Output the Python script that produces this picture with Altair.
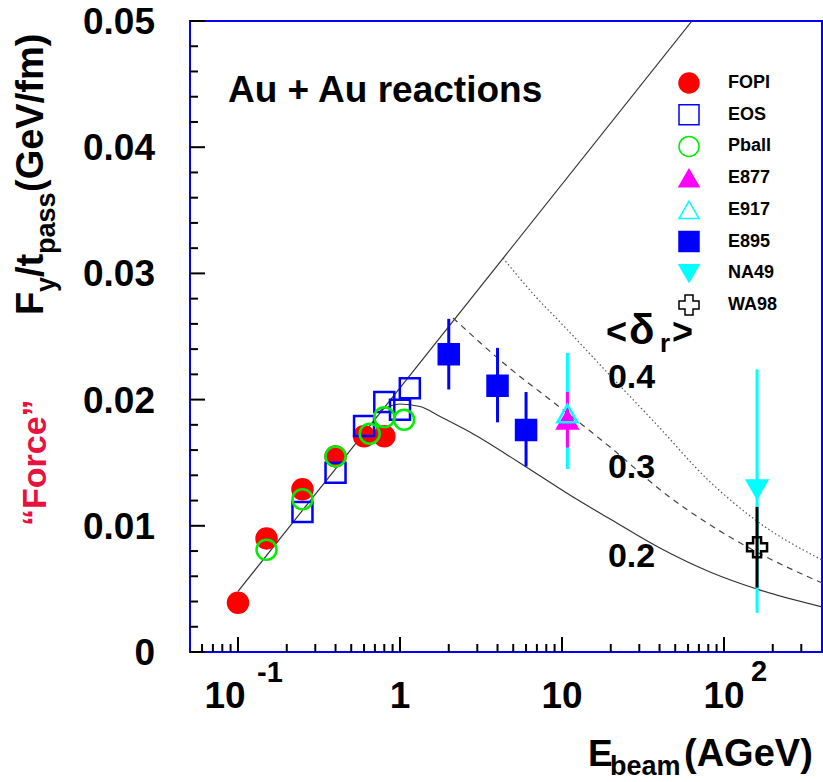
import altair as alt
import pandas as pd

# ---------------- measurements ----------------
fopi_x = [0.1, 0.15, 0.25, 0.4, 0.6, 0.8]
fopi_y = [0.0039, 0.0090, 0.0129, 0.0155, 0.0171, 0.0171]

eos_x = [0.25, 0.4, 0.6, 0.8, 1.0, 1.15]
eos_y = [0.0111, 0.0142, 0.0179, 0.0198, 0.0192, 0.0209]

pball_x = [0.15, 0.25, 0.4, 0.65, 0.8, 1.06]
pball_y = [0.0081, 0.0121, 0.0155, 0.0173, 0.0186, 0.0184]

e895_x = [2.0, 4.0, 6.0]
e895_y = [0.0236, 0.0211, 0.0176]
e895_lo = [0.0208, 0.0182, 0.0147]
e895_hi = [0.0264, 0.0241, 0.0206]

e877_x = [10.8]
e877_y = [0.0184]
e877_lo = [0.0162]
e877_hi = [0.0206]

e917_x = [10.8]
e917_y = [0.0189]
e917_lo = [0.0145]
e917_hi = [0.0237]

na49_x = [160.0]
na49_y = [0.0129]
na49_lo = [0.0031]
na49_hi = [0.0224]

wa98_x = [160.0]
wa98_y = [0.0083]
wa98_lo = [0.0051]
wa98_hi = [0.0115]

# ---------------- model curves ----------------
line_x = [0.1, 63.4]
line_y = [0.0048, 0.05]

c02_x = [0.753, 1.0, 1.33, 1.77, 2.70, 5.50, 11.7, 19.8, 40.2, 82.0, 159.5, 403.0]
c02_y = [0.01914, 0.01965, 0.01945, 0.01866, 0.01743, 0.01498, 0.01228, 0.01054, 0.00824, 0.00634, 0.00499, 0.00357]

c03_x = [2.125, 4.58, 9.31, 19.8, 44.4, 84.2, 159.5, 403.0]
c03_y = [0.02647, 0.02266, 0.01957, 0.01624, 0.01244, 0.00998, 0.00792, 0.00547]

c04_x = [4.32, 7.0, 9.72, 18.9, 38.6, 78.6, 159.5, 403.0]
c04_y = [0.03122, 0.02805, 0.02615, 0.02219, 0.01799, 0.01371, 0.01038, 0.00729]

curve_labels = ["0.4", "0.3", "0.2"]
curve_label_x = [19.2, 19.2, 19.2]
curve_label_y = [0.0209, 0.0138, 0.0067]

# ---------------- axes ----------------
x_major = [0.1, 1, 10, 100]
x_minor = [0.06, 0.07, 0.08, 0.09,
           0.2, 0.3, 0.4, 0.5, 0.6, 0.7, 0.8, 0.9,
           2, 3, 4, 5, 6, 7, 8, 9,
           20, 30, 40, 50, 60, 70, 80, 90,
           200, 300]
y_major = [0.0, 0.01, 0.02, 0.03, 0.04, 0.05]
y_major_labels = ["0", "0.01", "0.02", "0.03", "0.04", "0.05"]
y_minor = [v / 1000 for v in range(2, 50, 2) if v % 10 != 0]

experiments = ["FOPI", "EOS", "Pball", "E877", "E917", "E895", "NA49", "WA98"]
shapes = ["circle", "square", "circle", "triangle-up", "triangle-up", "square", "triangle-down", "cross"]
fills = ["#ff0000", "transparent", "transparent", "#ff00ff", "transparent", "#0000ff", "#00ffff", "transparent"]
strokes = ["#ff0000", "#0000ff", "#00ee00", "#ff00ff", "#00ffff", "#0000ff", "#00ffff", "#000000"]

FONT = "Liberation Sans"
W, H = 632, 631

xs = alt.Scale(type="log", domain=[0.05055, 402.7], nice=False)
ys = alt.Scale(domain=[0, 0.05], nice=False, zero=False)

shape_scale = alt.Scale(domain=experiments, range=shapes)
fill_scale = alt.Scale(domain=experiments, range=fills)
stroke_scale = alt.Scale(domain=experiments, range=strokes)


def X(field="x"):
    return alt.X(f"{field}:Q", scale=xs, axis=None)


def Y(field="y"):
    return alt.Y(f"{field}:Q", scale=ys, axis=None)


# points table, in drawing order
point_sets = [
    ("FOPI", fopi_x, fopi_y),
    ("EOS", eos_x, eos_y),
    ("Pball", pball_x, pball_y),
    ("E895", e895_x, e895_y),
    ("E877", e877_x, e877_y),
    ("E917", e917_x, e917_y),
    ("NA49", na49_x, na49_y),
    ("WA98", wa98_x, wa98_y),
]
rows = []
for name, xv, yv in point_sets:
    for a, b in zip(xv, yv):
        rows.append({"exp": name, "x": a, "y": b, "k": len(rows)})
pts = pd.DataFrame(rows)

err_sets = [
    ("E895", e895_x, e895_lo, e895_hi),
    ("E917", e917_x, e917_lo, e917_hi),
    ("E877", e877_x, e877_lo, e877_hi),
    ("NA49", na49_x, na49_lo, na49_hi),
    ("WA98", wa98_x, wa98_lo, wa98_hi),
]
erows = []
for name, xv, lo, hi in err_sets:
    for a, l, h in zip(xv, lo, hi):
        erows.append({"exp": name, "x": a, "lo": l, "hi": h, "k": len(erows)})
errs = pd.DataFrame(erows)

points = alt.Chart(pts).mark_point(size=400, strokeWidth=2.5, opacity=1).encode(
    x=X(), y=Y(),
    shape=alt.Shape("exp:N", scale=shape_scale, legend=None),
    fill=alt.Fill("exp:N", scale=fill_scale, legend=None),
    stroke=alt.Stroke("exp:N", scale=stroke_scale, legend=None),
    order=alt.Order("k:Q"),
)

bars = alt.Chart(errs).mark_rule(strokeWidth=3).encode(
    x=X(), y=Y("lo"), y2="hi",
    color=alt.Color("exp:N", scale=alt.Scale(domain=experiments, range=strokes), legend=None),
    order=alt.Order("k:Q"),
)

# key of experiments, stacked in the upper right of the frame
key_df = pd.DataFrame({"exp": experiments})
key_y = alt.Y("exp:N", scale=alt.Scale(domain=experiments, range=[62, 284], padding=0), axis=None)
key_symbols = alt.Chart(key_df).mark_point(size=400, strokeWidth=1.5, opacity=1).encode(
    x=alt.value(499), y=key_y,
    shape=alt.Shape("exp:N", scale=shape_scale, legend=None),
    fill=alt.Fill("exp:N", scale=fill_scale, legend=None),
    stroke=alt.Stroke("exp:N", scale=stroke_scale, legend=None),
)
key_labels = alt.Chart(key_df).mark_text(
    align="left", baseline="middle", font=FONT, fontSize=18, fontWeight="bold", color="black"
).encode(x=alt.value(538), y=key_y, text="exp:N")


def curve(xv, yv, dash=None, color="#333333"):
    df = pd.DataFrame({"x": xv, "y": yv})
    kw = dict(color=color, strokeWidth=1.2, interpolate="monotone", clip=True)
    if dash:
        kw["strokeDash"] = dash
    return alt.Chart(df).mark_line(**kw).encode(x=X(), y=Y())


lines = [
    curve(line_x, line_y),
    curve(c02_x, c02_y),
    curve(c03_x, c03_y, dash=[6, 5], color="#444444"),
    curve(c04_x, c04_y, dash=[1.5, 2.5], color="#555555"),
]


# tick marks drawn inward
def xticks(vals, length):
    return alt.Chart(pd.DataFrame({"v": vals})).mark_rule(color="black", strokeWidth=2).encode(
        x=X("v"), y=alt.value(H), y2=alt.value(H - length))


def yticks(vals, length):
    return alt.Chart(pd.DataFrame({"v": vals})).mark_rule(color="black", strokeWidth=2).encode(
        y=Y("v"), x=alt.value(0), x2=alt.value(length))


ticks = [xticks(x_major, 15), xticks(x_minor, 8), yticks(y_major, 15), yticks(y_minor, 8)]

ylabels = alt.Chart(pd.DataFrame({"v": y_major, "lab": y_major_labels})).mark_text(
    align="right", baseline="alphabetic", dy=13, font=FONT, fontSize=37, fontWeight="bold", color="black"
).encode(x=alt.value(-35), y=Y("v"), text="lab:N")

# decade labels on the energy axis
xl_plain = alt.Chart(pd.DataFrame({"v": [1, 10, 100], "lab": ["1", "10", "10"]})).mark_text(
    align="center", baseline="alphabetic", font=FONT, fontSize=37, fontWeight="bold", color="black"
).encode(x=X("v"), y=alt.value(687), text="lab:N")
xl_tenth = alt.Chart(pd.DataFrame({"v": [0.1], "lab": ["10"]})).mark_text(
    align="center", baseline="alphabetic", dx=-13, font=FONT, fontSize=37, fontWeight="bold", color="black"
).encode(x=X("v"), y=alt.value(687), text="lab:N")
xl_exp_neg = alt.Chart(pd.DataFrame({"v": [0.1], "lab": ["-1"]})).mark_text(
    align="left", baseline="alphabetic", dx=19, font=FONT, fontSize=29, fontWeight="bold", color="black"
).encode(x=X("v"), y=alt.value(661), text="lab:N")
xl_exp_pos = alt.Chart(pd.DataFrame({"v": [100], "lab": ["2"]})).mark_text(
    align="left", baseline="alphabetic", dx=27, font=FONT, fontSize=29, fontWeight="bold", color="black"
).encode(x=X("v"), y=alt.value(660), text="lab:N")

clabels = alt.Chart(pd.DataFrame({"x": curve_label_x, "y": curve_label_y, "lab": curve_labels})).mark_text(
    align="left", baseline="alphabetic", font=FONT, fontSize=34, fontWeight="bold", color="black"
).encode(x=X(), y=Y(), text="lab:N")

one = pd.DataFrame({"a": [0]})


def label(text, x, y, size, angle=0, color="black", align="left"):
    return alt.Chart(one).mark_text(
        text=text, align=align, baseline="alphabetic", angle=angle,
        font=FONT, fontSize=size, fontWeight="bold", color=color,
    ).encode(x=alt.value(x), y=alt.value(y))


texts = [
    label("Au + Au reactions", 38, 81, 37),
    # <δ_r>
    label("<", 416, 323, 36),
    label("δ", 439, 323, 42),
    label("r", 470, 331, 26),
    label(">", 482, 323, 36),
    # energy axis title
    label("E", 398, 745, 37),
    label("beam", 420, 754, 27),
    label("(AGeV)", 494, 745, 38),
    # force axis title (vertical)
    label("F", -147, 294, 38, angle=270),
    label("y", -135, 271, 27, angle=270),
    label("/t", -147, 256, 38, angle=270),
    label("pass", -135, 233, 27, angle=270),
    label("(GeV/fm)", -147, 171, 38, angle=270),
    label("\u201cForce\u201d", -144, 505, 34, angle=270, color="#e8123e"),
]

chart = alt.layer(
    *lines, bars, points, key_symbols, key_labels, *ticks, ylabels,
    xl_plain, xl_tenth, xl_exp_neg, xl_exp_pos, clabels, *texts
).resolve_scale(
    y="independent"
).properties(
    width=W, height=H,
    padding={"left": 190, "top": 21, "right": 1, "bottom": 130},
    autosize=alt.AutoSizeParams(type="none"),
    background="white",
).configure_view(stroke="#0000ff", strokeWidth=2)

chart.save("out.html", embed_options={"renderer": "svg", "actions": False})
